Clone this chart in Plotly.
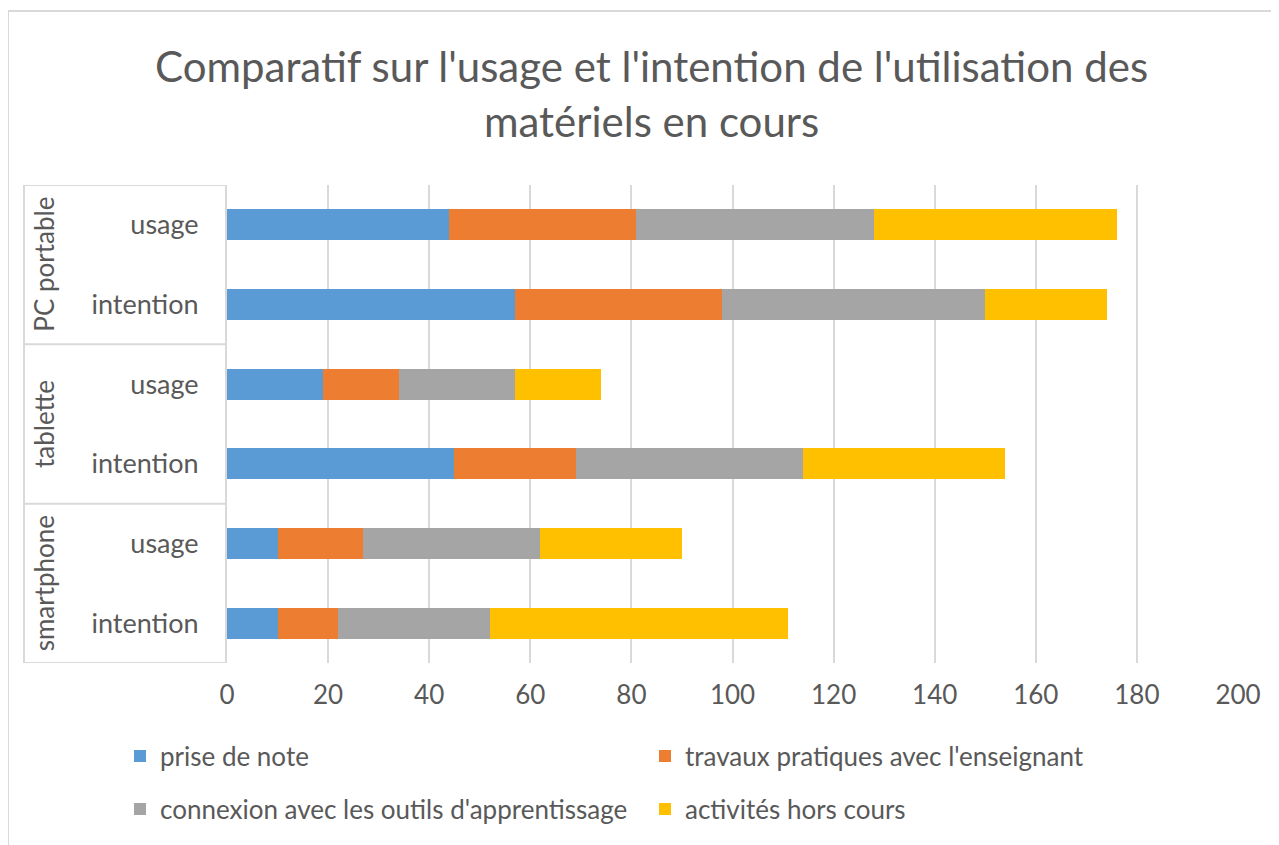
import plotly.graph_objects as go

groups = ["PC portable", "tablette", "smartphone"]
sub_labels = ["usage", "intention"]
categories = ["PC portable|usage", "PC portable|intention",
              "tablette|usage", "tablette|intention",
              "smartphone|usage", "smartphone|intention"]
tick_text = ["usage", "intention", "usage", "intention", "usage", "intention"]

series_names = ["prise de note", "travaux pratiques avec l'enseignant",
                "connexion avec les outils d'apprentissage", "activités hors cours"]
prise_de_note = [44, 57, 19, 45, 10, 10]
travaux_pratiques = [37, 41, 15, 24, 17, 12]
connexion_outils = [47, 52, 23, 45, 35, 30]
activites_hors_cours = [48, 24, 17, 40, 28, 59]
series_values = [prise_de_note, travaux_pratiques, connexion_outils, activites_hors_cours]
colors = ["#5B9BD5", "#ED7D31", "#A5A5A5", "#FFC000"]
x_ticks = [0, 20, 40, 60, 80, 100, 120, 140, 160, 180, 200]

TXT = "#595959"
FONT = "Lato"
GRID = "#D9D9D9"

fig = go.Figure()
for i, (name, vals, col) in enumerate(zip(series_names, series_values, colors)):
    fig.add_trace(go.Bar(
        y=categories, x=vals, name=name, orientation="h",
        marker=dict(color=col, line=dict(width=0)),
        legend="legend" if i < 2 else "legend2",
    ))

# page body has an 8px margin: work in page pixels and shift by OFF
OFF = 8
W, H = 1279 - OFF, 845 - OFF
L, R, T, B = 227 - OFF, 41, 185 - OFF, 190 - OFF
pw = W - L - R
ph = H - T - B

def px_x(px):
    return (px - OFF - L) / pw

def px_y(py):
    return (H - B - (py - OFF)) / ph

fig.update_layout(
    width=W, height=H,
    margin=dict(l=L, r=R, t=T, b=B, pad=0),
    barmode="stack", bargap=0.61,
    plot_bgcolor="white", paper_bgcolor="white",
    font=dict(family=FONT, color=TXT, size=26),
    showlegend=True,
    xaxis=dict(range=[0, 200], tickvals=x_ticks, showgrid=True, gridcolor=GRID,
               gridwidth=1.5, zeroline=False, showline=False, ticks="",
               tickfont=dict(size=26, color=TXT, family=FONT), ticklabelstandoff=14),
    yaxis=dict(type="category", categoryorder="array", categoryarray=categories,
               tickvals=categories, ticktext=tick_text, range=[5.5, -0.5],
               showgrid=False, zeroline=False, showline=True, linecolor=GRID,
               linewidth=2, ticks="", tickfont=dict(size=27, color=TXT, family=FONT),
               ticklabelstandoff=21),
    legend=dict(orientation="h", traceorder="normal", x=px_x(120), xanchor="left",
                y=px_y(756), yanchor="middle", entrywidthmode="pixels", entrywidth=480,
                font=dict(size=26, color=TXT, family=FONT), bgcolor="rgba(0,0,0,0)"),
    legend2=dict(orientation="h", traceorder="normal", x=px_x(120), xanchor="left",
                 y=px_y(809), yanchor="middle", entrywidthmode="pixels", entrywidth=480,
                 font=dict(size=26, color=TXT, family=FONT), bgcolor="rgba(0,0,0,0)"),
)

# title
fig.add_annotation(
    text="Comparatif sur l'usage et l'intention de l'utilisation des<br>matériels en cours",
    xref="paper", yref="paper", x=px_x(651), y=px_y(93), xanchor="center", yanchor="middle",
    showarrow=False, font=dict(size=42, color=TXT, family=FONT),
)

# group labels (rotated) and dividers of the multi-level category axis
for gi, g in enumerate(groups):
    fig.add_annotation(text=g, xref="paper", yref="y", x=px_x(44), y=gi * 2 + 0.5,
                       textangle=-90, showarrow=False, xanchor="center", yanchor="middle",
                       font=dict(size=26, color=TXT, family=FONT))
xl = px_x(24)
for b in [-0.5, 1.5, 3.5, 5.5]:
    fig.add_shape(type="line", xref="paper", yref="y", x0=xl, x1=0, y0=b, y1=b,
                  line=dict(color=GRID, width=2))
fig.add_shape(type="line", xref="paper", yref="y", x0=xl, x1=xl, y0=-0.5, y1=5.5,
              line=dict(color=GRID, width=2))

# chart outer border
fig.add_shape(type="rect", xref="paper", yref="paper", x0=px_x(8), x1=px_x(1290),
              y0=px_y(860), y1=px_y(11), line=dict(color=GRID, width=2), layer="below")

fig.write_html("out.html")
